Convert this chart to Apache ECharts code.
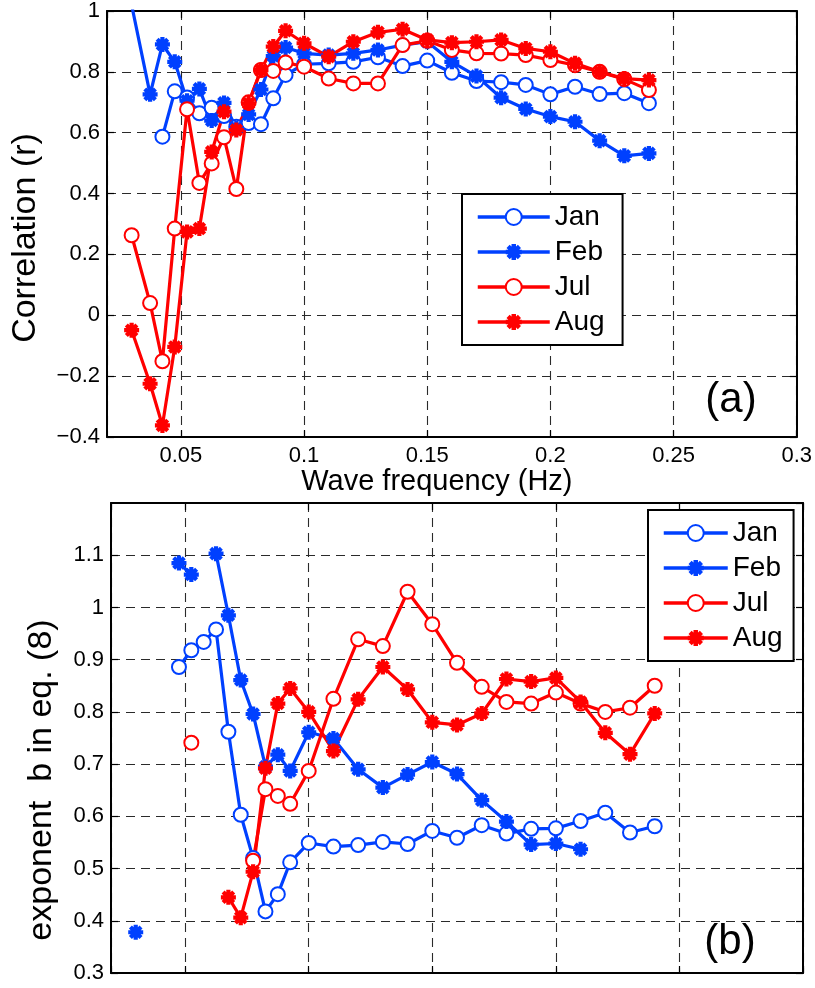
<!DOCTYPE html>
<html>
<head>
<meta charset="utf-8">
<script src="https://cdn.jsdelivr.net/npm/echarts@6/dist/echarts.min.js"></script>
<style>html,body{margin:0;padding:0;background:#fff}#c{width:815px;height:988px}</style>
</head>
<body>
<div id="c"></div>
<script>
// ---- data ----
const freq = [0.03, 0.0375, 0.0425, 0.0475, 0.0525, 0.0575, 0.0625, 0.0675, 0.0725, 0.0775, 0.0825, 0.0875, 0.0925, 0.1,
  0.11, 0.12, 0.13, 0.14, 0.15, 0.16, 0.17, 0.18, 0.19, 0.2, 0.21, 0.22, 0.23, 0.24];
const months = ['Jan', 'Feb', 'Jul', 'Aug'];
const xTickLabels = ['0.05', '0.1', '0.15', '0.2', '0.25', '0.3'];

// panel (a): correlation r
const corrJan = [null, null, 0.587, 0.736, 0.716, 0.664, 0.682, 0.655, 0.62, 0.632, 0.628, 0.713, 0.79, 0.825,
  0.828, 0.833, 0.848, 0.819, 0.837, 0.797, 0.77, 0.766, 0.757, 0.726, 0.751, 0.727, 0.73, 0.697];
const corrFeb = [1.02, 0.726, 0.89, 0.833, 0.705, 0.744, 0.64, 0.698, 0.615, 0.66, 0.742, 0.852, 0.88, 0.861,
  0.855, 0.861, 0.872, 0.888, 0.899, 0.833, 0.786, 0.715, 0.678, 0.653, 0.636, 0.574, 0.524, 0.532];
const corrJul = [0.263, 0.04, -0.151, 0.285, 0.677, 0.435, 0.499, 0.585, 0.415, 0.70, 0.806, 0.803, 0.831, 0.817,
  0.778, 0.762, 0.762, 0.888, 0.902, 0.872, 0.861, 0.86, 0.855, 0.839, 0.822, 0.80, 0.776, 0.74];
const corrAug = [-0.049, -0.225, -0.362, -0.104, 0.274, 0.285, 0.537, 0.669, 0.609, 0.696, 0.806, 0.883, 0.935, 0.894,
  0.85, 0.899, 0.93, 0.94, 0.905, 0.896, 0.899, 0.905, 0.877, 0.866, 0.828, 0.80, 0.778, 0.773];

// panel (b): exponent b
const expJan = [null, null, null, 0.886, 0.918, 0.934, 0.958, 0.762, 0.603, 0.52, 0.418, 0.451, 0.512, 0.549,
  0.542, 0.545, 0.551, 0.547, 0.572, 0.559, 0.583, 0.567, 0.576, 0.577, 0.591, 0.607, 0.569, 0.581];
const expFeb = [0.378, null, null, 1.085, 1.063, null, 1.103, 0.985, 0.861, 0.796, 0.695, 0.718, 0.687, 0.761,
  0.749, 0.690, 0.655, 0.68, 0.704, 0.681, 0.631, 0.59, 0.546, 0.548, 0.537, null, null, null];
const expJul = [null, null, null, null, 0.741, null, null, null, null, 0.515, 0.652, 0.639, 0.624, 0.687,
  0.825, 0.939, 0.926, 1.03, 0.968, 0.894, 0.848, 0.819, 0.816, 0.837, 0.816, 0.80, 0.808, 0.85];
const expAug = [null, null, null, null, null, null, null, 0.445, 0.406, 0.494, 0.692, 0.816, 0.845, 0.80,
  0.725, 0.824, 0.886, 0.843, 0.78, 0.775, 0.797, 0.863, 0.858, 0.865, 0.819, 0.76, 0.719, 0.797];

// ---- styling ----
const FONT = '"Liberation Sans", Arial, Helvetica, sans-serif';
const BLUE = '#0040ff';
const RED = '#ff0000';
const STAR = 'path://M-1,-0.28L1,-0.28L1,0.28L-1,0.28Z M0.28,-1L0.28,1L-0.28,1L-0.28,-1Z ' +
  'M-0.5091,-0.9051L0.9051,0.5091L0.5091,0.9051L-0.9051,-0.5091Z ' +
  'M-0.9051,0.5091L0.5091,-0.9051L0.9051,-0.5091L-0.5091,0.9051Z';

const fmt = v => String(+(+v).toFixed(2)).replace('-', '\u2212');

function pairs(vals) { return freq.map((f, i) => [f, vals[i] === null ? null : vals[i]]); }

const gridLine = { show: true, lineStyle: { color: '#2a2a2a', width: 1.1, type: [9, 6] } };
const boxLine = { show: true, onZero: false, lineStyle: { color: '#000', width: 2 } };
const tick = { show: true, inside: true, length: 7, lineStyle: { color: '#000', width: 1.2 } };

function xAxisDef(gi, pos, main, labels, name) {
  return {
    type: 'value', gridIndex: gi, position: pos, min: 0.02, max: 0.3,
    splitNumber: 6, minInterval: 0.05, maxInterval: 0.05,
    axisLine: boxLine, axisTick: tick,
    axisLabel: {
      show: labels, fontSize: 22, color: '#000', fontFamily: FONT, margin: 8, showMinLabel: false,
      formatter: v => { const s = fmt(v); return xTickLabels.indexOf(s) >= 0 ? s : ''; }
    },
    splitLine: main ? gridLine : { show: false },
    name: name || '', nameLocation: 'middle', nameGap: 29,
    nameTextStyle: { fontSize: 29, color: '#000', fontFamily: FONT, padding: [0, 30, 0, 0] }
  };
}
function yAxisDef(gi, pos, main, min, max, interval, name, nameOpts) {
  return Object.assign({
    type: 'value', gridIndex: gi, position: pos, min, max, interval,
    axisLine: boxLine, axisTick: tick,
    axisLabel: { show: main, fontSize: 22, color: '#000', fontFamily: FONT, margin: 7, formatter: fmt, showMaxLabel: max !== 1.2 },
    splitLine: main ? gridLine : { show: false },
    name: name || '', nameLocation: 'middle'
  }, nameOpts || {});
}

function lineSeries(name, vals, xi, yi, color, star) {
  return {
    name, type: 'line', xAxisIndex: xi, yAxisIndex: yi, data: pairs(vals),
    symbol: star ? STAR : 'emptyCircle', symbolSize: star ? 15 : 14,
    showSymbol: true, connectNulls: false, clip: true,
    lineStyle: { color, width: 3.2 },
    itemStyle: star ? { color, borderWidth: 0 } : { color, borderColor: color, borderWidth: 3 },
    emphasis: { disabled: true },
    animation: false
  };
}

const legendBase = {
  orient: 'vertical', data: months, itemHeight: 20, itemGap: 7,
  borderColor: '#000', borderWidth: 2, backgroundColor: '#fff',
  lineStyle: { width: 3.5 },
  textStyle: { fontSize: 28, lineHeight: 28, color: '#000', fontFamily: FONT },
  selectedMode: false
};

const option = {
  animation: false,
  backgroundColor: '#fff',
  grid: [
    { left: 107, top: 11, right: 17, bottom: 551, containLabel: false },
    { left: 111, top: 503, right: 12, bottom: 15, containLabel: false }
  ],
  xAxis: [
    xAxisDef(0, 'bottom', true, true, 'Wave frequency (Hz)'),
    xAxisDef(0, 'top', false, false),
    xAxisDef(1, 'bottom', true, false),
    xAxisDef(1, 'top', false, false)
  ],
  yAxis: [
    yAxisDef(0, 'left', true, -0.4, 1, 0.2, 'Correlation (r)',
      { nameGap: 64, nameTextStyle: { fontSize: 34, color: '#000', fontFamily: FONT, padding: [0, 28, 0, 0] } }),
    yAxisDef(0, 'right', false, -0.4, 1, 0.2),
    yAxisDef(1, 'left', true, 0.3, 1.2, 0.1, 'exponent  b in eq. (8)',
      { nameGap: 52, nameTextStyle: { fontSize: 34, color: '#000', fontFamily: FONT, padding: [0, 84, 0, 0] } }),
    yAxisDef(1, 'right', false, 0.3, 1.2, 0.1)
  ],
  legend: [
    Object.assign({}, legendBase, { left: 462, top: 194, itemWidth: 72, padding: [9, 18, 9, 14] }),
    Object.assign({}, legendBase, { left: 648, top: 510, itemWidth: 64, padding: [9, 11, 9, 14] })
  ],
  graphic: [
    { type: 'text', x: 731, y: 400, z: 10, style: { text: '(a)', fontSize: 42, fontFamily: FONT, fill: '#000', align: 'center', verticalAlign: 'middle' } },
    { type: 'text', x: 730, y: 942, z: 10, style: { text: '(b)', fontSize: 42, fontFamily: FONT, fill: '#000', align: 'center', verticalAlign: 'middle' } }
  ],
  series: [
    lineSeries('Jan', corrJan, 0, 0, BLUE, false),
    lineSeries('Feb', corrFeb, 0, 0, BLUE, true),
    lineSeries('Jul', corrJul, 0, 0, RED, false),
    lineSeries('Aug', corrAug, 0, 0, RED, true),
    lineSeries('Jan', expJan, 2, 2, BLUE, false),
    lineSeries('Feb', expFeb, 2, 2, BLUE, true),
    lineSeries('Jul', expJul, 2, 2, RED, false),
    lineSeries('Aug', expAug, 2, 2, RED, true)
  ]
};

const chart = echarts.init(document.getElementById('c'), null, { renderer: 'canvas' });
chart.setOption(option);
</script>
</body>
</html>
